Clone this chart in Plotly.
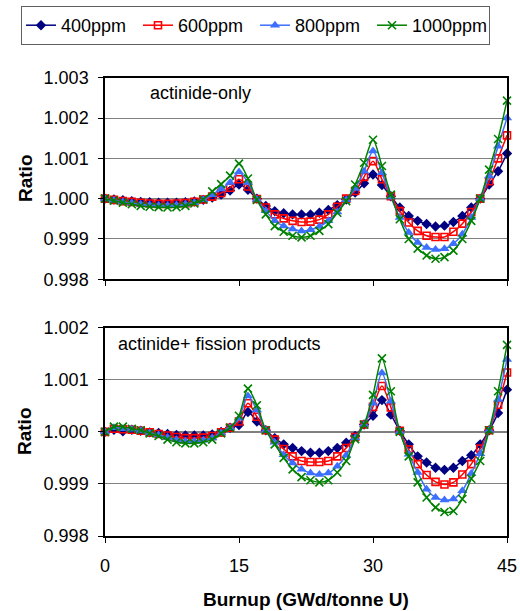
import plotly.graph_objects as go

burnup = list(range(46))
series_names = ["400ppm", "600ppm", "800ppm", "1000ppm"]

top_400 = [1.00000, 0.99998, 0.99996, 0.99994, 0.99992, 0.99991, 0.99990, 0.99990, 0.99990, 0.99991,
           0.99993, 0.99997, 1.00003, 1.00010, 1.00020, 1.00035, 1.00022, 1.00000, 0.99982, 0.99969,
           0.99964, 0.99961, 0.99961, 0.99961, 0.99965, 0.99972, 0.99984, 0.99998, 1.00015, 1.00038,
           1.00060, 1.00034, 1.00006, 0.99978, 0.99957, 0.99945, 0.99937, 0.99931, 0.99933, 0.99942,
           0.99957, 0.99978, 1.00000, 1.00035, 1.00068, 1.00112]
top_600 = [1.00000, 0.99997, 0.99994, 0.99992, 0.99990, 0.99988, 0.99987, 0.99987, 0.99988, 0.99989,
           0.99992, 0.99998, 1.00005, 1.00014, 1.00027, 1.00048, 1.00030, 0.99999, 0.99978, 0.99961,
           0.99951, 0.99945, 0.99942, 0.99943, 0.99948, 0.99961, 0.99980, 1.00000, 1.00019, 1.00054,
           1.00093, 1.00048, 1.00006, 0.99969, 0.99941, 0.99920, 0.99908, 0.99905, 0.99905, 0.99918,
           0.99938, 0.99967, 1.00000, 1.00043, 1.00100, 1.00157]
top_800 = [1.00000, 0.99996, 0.99992, 0.99989, 0.99986, 0.99984, 0.99983, 0.99983, 0.99984, 0.99986,
           0.99990, 0.99997, 1.00010, 1.00024, 1.00040, 1.00066, 1.00040, 0.99998, 0.99970, 0.99945,
           0.99932, 0.99925, 0.99920, 0.99923, 0.99931, 0.99945, 0.99967, 0.99997, 1.00025, 1.00068,
           1.00118, 1.00064, 1.00004, 0.99953, 0.99916, 0.99891, 0.99879, 0.99874, 0.99876, 0.99888,
           0.99912, 0.99953, 1.00000, 1.00056, 1.00130, 1.00200]
top_1000 = [1.00000, 0.99995, 0.99990, 0.99986, 0.99982, 0.99980, 0.99979, 0.99978, 0.99979, 0.99982,
            0.99988, 0.99998, 1.00018, 1.00036, 1.00057, 1.00087, 1.00050, 0.99997, 0.99961, 0.99932,
            0.99918, 0.99908, 0.99904, 0.99908, 0.99920, 0.99937, 0.99965, 0.99994, 1.00035, 1.00089,
            1.00146, 1.00081, 1.00010, 0.99949, 0.99900, 0.99876, 0.99859, 0.99851, 0.99855, 0.99871,
            0.99900, 0.99945, 1.00000, 1.00072, 1.00148, 1.00243]

bot_400 = [1.00000, 1.00004, 1.00001, 1.00004, 1.00002, 0.99999, 0.99998, 0.99996, 0.99994, 0.99993,
           0.99993, 0.99993, 0.99995, 1.00000, 1.00008, 1.00013, 1.00038, 1.00020, 1.00003, 0.99988,
           0.99976, 0.99969, 0.99963, 0.99960, 0.99960, 0.99963, 0.99969, 0.99979, 0.99992, 1.00014,
           1.00031, 1.00061, 1.00033, 1.00002, 0.99976, 0.99953, 0.99941, 0.99931, 0.99927, 0.99931,
           0.99944, 0.99955, 0.99976, 1.00003, 1.00036, 1.00081]
bot_600 = [1.00000, 1.00006, 1.00005, 1.00004, 1.00002, 0.99999, 0.99996, 0.99993, 0.99990, 0.99988,
           0.99988, 0.99989, 0.99992, 0.99999, 1.00008, 1.00020, 1.00055, 1.00029, 1.00003, 0.99985,
           0.99967, 0.99953, 0.99944, 0.99942, 0.99942, 0.99944, 0.99953, 0.99969, 0.99990, 1.00014,
           1.00048, 1.00088, 1.00047, 1.00002, 0.99966, 0.99938, 0.99917, 0.99904, 0.99899, 0.99903,
           0.99918, 0.99938, 0.99968, 1.00003, 1.00052, 1.00114]
bot_800 = [1.00000, 1.00008, 1.00006, 1.00005, 1.00002, 0.99998, 0.99994, 0.99989, 0.99985, 0.99982,
           0.99982, 0.99984, 0.99988, 0.99998, 1.00008, 1.00026, 1.00069, 1.00042, 1.00003, 0.99980,
           0.99956, 0.99940, 0.99928, 0.99921, 0.99918, 0.99921, 0.99934, 0.99955, 0.99988, 1.00014,
           1.00055, 1.00113, 1.00059, 1.00000, 0.99957, 0.99922, 0.99890, 0.99874, 0.99869, 0.99871,
           0.99887, 0.99920, 0.99958, 1.00003, 1.00062, 1.00139]
bot_1000 = [1.00000, 1.00010, 1.00010, 1.00006, 1.00003, 0.99997, 0.99992, 0.99985, 0.99980, 0.99978,
            0.99978, 0.99980, 0.99985, 0.99997, 1.00008, 1.00031, 1.00083, 1.00051, 1.00003, 0.99976,
            0.99950, 0.99928, 0.99913, 0.99907, 0.99903, 0.99907, 0.99922, 0.99944, 0.99986, 1.00014,
            1.00071, 1.00141, 1.00078, 1.00000, 0.99953, 0.99903, 0.99874, 0.99855, 0.99846, 0.99848,
            0.99871, 0.99910, 0.99944, 1.00003, 1.00078, 1.00167]

x_ticks = [0, 15, 30, 45]
top_yticks = [0.998, 0.999, 1.000, 1.001, 1.002, 1.003]
bot_yticks = [0.998, 0.999, 1.000, 1.001, 1.002]

FONT = "Liberation Sans, Arial, sans-serif"
W, H = 520, 611

styles = [
    dict(color="#000080", marker=dict(symbol="diamond", size=8, color="#000080",
                                      line=dict(width=0))),
    dict(color="#FF0000", marker=dict(symbol="square-open", size=7, color="#FF0000",
                                      line=dict(width=1.6, color="#FF0000"))),
    dict(color="#3D6FFF", marker=dict(symbol="triangle-up", size=9, color="#3D6FFF",
                                      line=dict(width=0))),
    dict(color="#008000", marker=dict(symbol="x-thin", size=8, color="#008000",
                                      line=dict(width=1.6, color="#008000"))),
]

fig = go.Figure()
top_data = [top_400, top_600, top_800, top_1000]
bot_data = [bot_400, bot_600, bot_800, bot_1000]
for i, name in enumerate(series_names):
    st = styles[i]
    fig.add_trace(go.Scatter(x=burnup, y=top_data[i], name=name, mode="lines+markers",
                             line=dict(color=st["color"], width=1.5, shape="spline", smoothing=0.8),
                             marker=st["marker"], xaxis="x", yaxis="y", cliponaxis=False,
                             legendgroup=name))
for i, name in enumerate(series_names):
    st = styles[i]
    fig.add_trace(go.Scatter(x=burnup, y=bot_data[i], name=name, mode="lines+markers",
                             line=dict(color=st["color"], width=1.5, shape="spline", smoothing=0.8),
                             marker=st["marker"], xaxis="x2", yaxis="y2", cliponaxis=False,
                             legendgroup=name, showlegend=False))

x0, x1 = 105 / W, 507 / W
top_dom = [1 - 279.3 / H, 1 - 77.7 / H]
bot_dom = [1 - 536 / H, 1 - 327.7 / H]

axis_common = dict(showline=True, linecolor="black", linewidth=1.5, mirror=True,
                   ticks="outside", ticklen=5, tickcolor="black", tickwidth=1,
                   tickfont=dict(family=FONT, size=18, color="black"), zeroline=False,
                   automargin=False)

fig.update_layout(
    width=W, height=H,
    margin=dict(l=0, r=0, t=0, b=0, autoexpand=False),
    paper_bgcolor="white", plot_bgcolor="white",
    font=dict(family=FONT, size=18, color="black"),
    showlegend=True,
    legend=dict(orientation="h", x=21 / W, y=1 - 6 / H, xanchor="left", yanchor="top",
                bordercolor="#606060", borderwidth=1, bgcolor="white",
                font=dict(family=FONT, size=18, color="black"),
                entrywidth=72, entrywidthmode="pixels", itemclick=False),
    xaxis=dict(domain=[x0, x1], range=[0, 45], tickvals=x_ticks, showticklabels=False,
               showgrid=False, anchor="y", **axis_common),
    yaxis=dict(domain=top_dom, range=[0.998, 1.003], tickvals=top_yticks, tickformat=".3f",
               showgrid=True, gridcolor="#808080", gridwidth=1, anchor="x",
               ticklabelstandoff=6, **axis_common),
    xaxis2=dict(domain=[x0, x1], range=[0, 45], tickvals=x_ticks, showticklabels=True,
                showgrid=False, anchor="y2", ticklabelstandoff=8, **axis_common),
    yaxis2=dict(domain=bot_dom, range=[0.998, 1.002], tickvals=bot_yticks, tickformat=".3f",
                showgrid=True, gridcolor="#808080", gridwidth=1, anchor="x2",
                ticklabelstandoff=6, **axis_common),
    shapes=[
        dict(type="line", xref="x domain", x0=0, x1=1, yref="y", y0=1.0, y1=1.0,
             line=dict(color="black", width=1.2), layer="below"),
        dict(type="line", xref="x2 domain", x0=0, x1=1, yref="y2", y0=1.0, y1=1.0,
             line=dict(color="black", width=1.2), layer="below"),
    ],
    annotations=[
        dict(text="actinide-only", xref="paper", yref="paper", x=200 / W, y=1 - 93 / H,
             showarrow=False, xanchor="center", yanchor="middle",
             font=dict(family=FONT, size=18, color="black")),
        dict(text="actinide+ fission products", xref="paper", yref="paper", x=116 / W,
             y=1 - 344 / H, showarrow=False, xanchor="left", yanchor="middle",
             font=dict(family=FONT, size=18, color="black")),
        dict(text="<b>Ratio</b>", xref="paper", yref="paper", x=25 / W, y=1 - 178 / H,
             showarrow=False, textangle=-90, xanchor="center", yanchor="middle",
             font=dict(family=FONT, size=19, color="black")),
        dict(text="<b>Ratio</b>", xref="paper", yref="paper", x=25 / W, y=1 - 431 / H,
             showarrow=False, textangle=-90, xanchor="center", yanchor="middle",
             font=dict(family=FONT, size=19, color="black")),
        dict(text="<b>Burnup (GWd/tonne U)</b>", xref="paper", yref="paper", x=306 / W,
             y=1 - 599 / H, showarrow=False, xanchor="center", yanchor="middle",
             font=dict(family=FONT, size=19, color="black")),
    ],
)

fig.write_html("out.html", config={"displayModeBar": False},
               post_script="document.body.style.margin='0px';document.body.style.overflow='hidden';")
